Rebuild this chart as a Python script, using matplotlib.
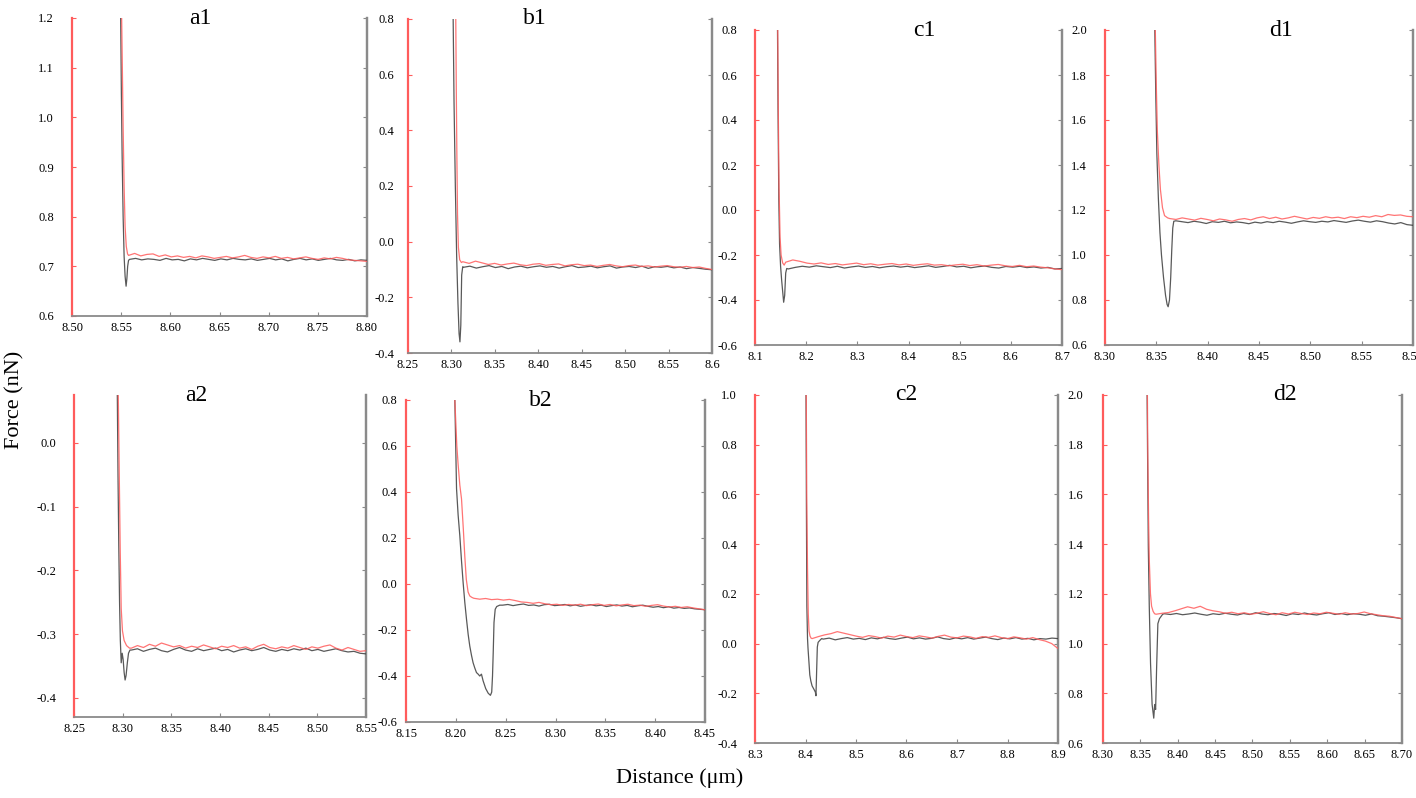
import numpy as np
import matplotlib
matplotlib.use('Agg')
import matplotlib.pyplot as plt

plt.rcParams['font.family'] = ['Liberation Serif', 'DejaVu Serif']

RED = '#ff5c5c'
GREY = '#8a8a8a'
DARK = '#3c3c3c'

# ---- a1 ----
a1_red_x = [8.5505, 8.5512, 8.5520, 8.5530, 8.5540, 8.5552, 8.5565]
a1_red_y = [1.20, 1.10, 0.98, 0.86, 0.78, 0.74, 0.725]
a1_red_flat_span = (8.5575, 8.80)
a1_red_flat = [0.722, 0.726, 0.721, 0.724, 0.725, 0.720, 0.723, 0.719, 0.721, 0.718,
               0.720, 0.717, 0.721, 0.719, 0.716, 0.718, 0.720, 0.717, 0.719, 0.722,
               0.718, 0.716, 0.719, 0.717, 0.720, 0.716, 0.718, 0.715, 0.717, 0.719,
               0.716, 0.714, 0.717, 0.715, 0.718, 0.716, 0.713, 0.712, 0.711, 0.710]
a1_blk_x = [8.5495, 8.5502, 8.5510, 8.5520, 8.5530, 8.5540, 8.5550, 8.5558, 8.5566, 8.5575]
a1_blk_y = [1.20, 1.05, 0.92, 0.80, 0.72, 0.68, 0.66, 0.675, 0.70, 0.712]
a1_blk_flat_span = (8.5585, 8.80)
a1_blk_flat = [0.714, 0.716, 0.713, 0.715, 0.714, 0.712, 0.716, 0.713, 0.714, 0.711,
               0.715, 0.713, 0.716, 0.714, 0.712, 0.715, 0.713, 0.716, 0.714, 0.713,
               0.715, 0.712, 0.714, 0.716, 0.713, 0.715, 0.711, 0.714, 0.716, 0.713,
               0.715, 0.712, 0.714, 0.716, 0.713, 0.712, 0.714, 0.711, 0.713, 0.712]

# ---- b1 ----
b1_red_x = [8.3050, 8.3056, 8.3063, 8.3070, 8.3080, 8.3095, 8.3115]
b1_red_y = [0.80, 0.55, 0.30, 0.10, -0.02, -0.065, -0.075]
b1_red_flat_span = (8.313, 8.60)
b1_red_flat = [-0.072, -0.078, -0.070, -0.076, -0.082, -0.078, -0.084, -0.080, -0.077, -0.083,
               -0.086, -0.081, -0.079, -0.085, -0.082, -0.080, -0.087, -0.083, -0.081, -0.086,
               -0.084, -0.089, -0.085, -0.082, -0.087, -0.090, -0.086, -0.084, -0.089, -0.087,
               -0.091, -0.088, -0.086, -0.090, -0.092, -0.089, -0.093, -0.091, -0.096, -0.100]
b1_blk_x = [8.3020, 8.3030, 8.3045, 8.3060, 8.3075, 8.3088, 8.3098, 8.3108, 8.3118, 8.3130]
b1_blk_y = [0.80, 0.50, 0.20, -0.05, -0.22, -0.33, -0.36, -0.30, -0.12, -0.09]
b1_blk_flat_span = (8.314, 8.60)
b1_blk_flat = [-0.092, -0.088, -0.095, -0.090, -0.086, -0.093, -0.089, -0.097, -0.091, -0.088,
               -0.094, -0.090, -0.087, -0.092, -0.089, -0.095, -0.090, -0.086, -0.093, -0.091,
               -0.088, -0.094, -0.090, -0.087, -0.095, -0.091, -0.089, -0.093, -0.088, -0.096,
               -0.090, -0.092, -0.089, -0.094, -0.091, -0.097, -0.093, -0.096, -0.099, -0.101]

# ---- c1 ----
c1_red_x = [8.1445, 8.1455, 8.1470, 8.1490, 8.1510, 8.1540, 8.1570]
c1_red_y = [0.80, 0.45, 0.10, -0.12, -0.20, -0.235, -0.245]
c1_red_flat_span = (8.160, 8.70)
c1_red_flat = [-0.232, -0.222, -0.228, -0.236, -0.240, -0.235, -0.242, -0.238, -0.244, -0.240,
               -0.236, -0.243, -0.239, -0.245, -0.241, -0.238, -0.244, -0.240, -0.246, -0.242,
               -0.239, -0.245, -0.243, -0.248, -0.244, -0.241, -0.247, -0.243, -0.249, -0.245,
               -0.242, -0.248, -0.251, -0.246, -0.252, -0.249, -0.254, -0.257, -0.262, -0.265]
c1_blk_x = [8.1440, 8.1450, 8.1465, 8.1480, 8.1500, 8.1520, 8.1540, 8.1560, 8.1580, 8.1600, 8.1620]
c1_blk_y = [0.80, 0.45, 0.05, -0.15, -0.25, -0.31, -0.36, -0.41, -0.38, -0.28, -0.26]
c1_blk_flat_span = (8.165, 8.70)
c1_blk_flat = [-0.262, -0.255, -0.250, -0.254, -0.248, -0.252, -0.256, -0.250, -0.258, -0.253,
               -0.249, -0.255, -0.251, -0.257, -0.252, -0.249, -0.254, -0.250, -0.256, -0.252,
               -0.248, -0.255, -0.251, -0.246, -0.253, -0.250, -0.257, -0.252, -0.249, -0.255,
               -0.258, -0.251, -0.254, -0.250, -0.256, -0.253, -0.258, -0.255, -0.262, -0.260]

# ---- d1 ----
d1_red_x = [8.3490, 8.3500, 8.3510, 8.3525, 8.3540, 8.3560, 8.3580, 8.3610]
d1_red_y = [2.00, 1.75, 1.55, 1.40, 1.29, 1.21, 1.175, 1.165]
d1_red_flat_span = (8.363, 8.60)
d1_red_flat = [1.162, 1.158, 1.165, 1.160, 1.155, 1.163, 1.158, 1.152, 1.160, 1.156,
               1.150, 1.158, 1.162, 1.156, 1.165, 1.170, 1.162, 1.168, 1.160, 1.165,
               1.172, 1.166, 1.160, 1.167, 1.163, 1.170, 1.165, 1.168, 1.162, 1.170,
               1.166, 1.172, 1.168, 1.175, 1.170, 1.180, 1.176, 1.178, 1.172, 1.170]
d1_blk_x = [8.3485, 8.3495, 8.3505, 8.3520, 8.3535, 8.3550, 8.3570, 8.3590, 8.3605, 8.3615,
            8.3628, 8.3640, 8.3650, 8.3660, 8.3670]
d1_blk_y = [2.00, 1.70, 1.45, 1.25, 1.10, 1.00, 0.90, 0.82, 0.78, 0.77,
            0.80, 0.90, 1.02, 1.12, 1.15]
d1_blk_flat_span = (8.369, 8.60)
d1_blk_flat = [1.152, 1.148, 1.144, 1.150, 1.146, 1.140, 1.148, 1.145, 1.150, 1.143,
               1.147, 1.144, 1.139, 1.146, 1.142, 1.148, 1.144, 1.150, 1.146, 1.141,
               1.147, 1.152, 1.148, 1.145, 1.150, 1.147, 1.153, 1.149, 1.145, 1.151,
               1.155, 1.150, 1.146, 1.152, 1.148, 1.142, 1.138, 1.144, 1.135, 1.132]

# ---- a2 ----
a2_red_x = [8.2955, 8.2965, 8.2975, 8.2985, 8.2998, 8.3015, 8.3040, 8.3070]
a2_red_y = [0.075, -0.05, -0.17, -0.26, -0.295, -0.31, -0.318, -0.322]
a2_red_flat_span = (8.309, 8.55)
a2_red_flat = [-0.322, -0.318, -0.321, -0.316, -0.319, -0.314, -0.317, -0.320, -0.318, -0.322,
               -0.319, -0.321, -0.317, -0.320, -0.323, -0.319, -0.321, -0.318, -0.322, -0.320,
               -0.324, -0.319, -0.316, -0.321, -0.323, -0.320, -0.322, -0.318, -0.321, -0.324,
               -0.320, -0.322, -0.319, -0.317, -0.322, -0.325, -0.321, -0.324, -0.327, -0.326]
a2_blk_x = [8.2945, 8.2952, 8.2960, 8.2968, 8.2976, 8.2985, 8.2995, 8.3005, 8.3015, 8.3025,
            8.3035, 8.3048, 8.3060, 8.3075]
a2_blk_y = [0.075, -0.05, -0.16, -0.25, -0.31, -0.345, -0.33, -0.34, -0.36, -0.372,
            -0.365, -0.345, -0.33, -0.325]
a2_blk_flat_span = (8.309, 8.55)
a2_blk_flat = [-0.325, -0.323, -0.327, -0.324, -0.322, -0.326, -0.328, -0.324, -0.321, -0.325,
               -0.327, -0.323, -0.326, -0.324, -0.322, -0.326, -0.324, -0.328, -0.325, -0.323,
               -0.326, -0.324, -0.321, -0.325, -0.327, -0.324, -0.326, -0.323, -0.325, -0.322,
               -0.326, -0.324, -0.327, -0.325, -0.323, -0.326, -0.328, -0.327, -0.330, -0.331]

# ---- b2 ----
b2_red_x = [8.1990, 8.2000, 8.2010, 8.2023, 8.2040, 8.2057, 8.2075, 8.2090, 8.2105, 8.2123,
            8.2140, 8.2160]
b2_red_y = [0.80, 0.70, 0.60, 0.52, 0.43, 0.37, 0.24, 0.12, 0.02, -0.035, -0.052, -0.058]
b2_red_flat_span = (8.218, 8.45)
b2_red_flat = [-0.062, -0.066, -0.063, -0.068, -0.066, -0.070, -0.067, -0.072, -0.078, -0.080,
               -0.084, -0.080, -0.086, -0.090, -0.088, -0.093, -0.089, -0.092, -0.088, -0.094,
               -0.090, -0.087, -0.093, -0.089, -0.095, -0.091, -0.088, -0.094, -0.092, -0.097,
               -0.093, -0.090, -0.096, -0.100, -0.097, -0.102, -0.099, -0.104, -0.108, -0.112]
b2_blk_x = [8.1990, 8.2007, 8.2023, 8.2040, 8.2057, 8.2073, 8.2090, 8.2107, 8.2124, 8.2140,
            8.2157, 8.2173, 8.2190, 8.2207, 8.2224, 8.2240, 8.2257, 8.2273, 8.2300, 8.2325,
            8.2347, 8.2360, 8.2368, 8.2375, 8.2383, 8.2395, 8.2410, 8.2440]
b2_blk_y = [0.80, 0.415, 0.30, 0.21, 0.10, 0.007, -0.08, -0.153, -0.22, -0.27,
            -0.31, -0.342, -0.365, -0.385, -0.392, -0.40, -0.392, -0.42, -0.455, -0.475,
            -0.484, -0.47, -0.40, -0.30, -0.167, -0.11, -0.098, -0.092]
b2_blk_flat_span = (8.247, 8.45)
b2_blk_flat = [-0.092, -0.089, -0.094, -0.090, -0.087, -0.093, -0.091, -0.096, -0.090, -0.088,
               -0.094, -0.092, -0.089, -0.095, -0.091, -0.097, -0.093, -0.090, -0.095, -0.092,
               -0.098, -0.094, -0.091, -0.096, -0.093, -0.099, -0.095, -0.092, -0.097, -0.101,
               -0.098, -0.103, -0.099, -0.105, -0.102, -0.106, -0.104, -0.108, -0.110, -0.112]

# ---- c2 ----
c2_red_x = [8.4015, 8.4025, 8.4040, 8.4055, 8.4070, 8.4090, 8.4110]
c2_red_y = [1.00, 0.60, 0.30, 0.12, 0.05, 0.03, 0.022]
c2_red_flat_span = (8.413, 8.90)
c2_red_flat = [0.020, 0.028, 0.035, 0.040, 0.048, 0.042, 0.036, 0.030, 0.025, 0.032,
               0.028, 0.022, 0.030, 0.026, 0.034, 0.028, 0.024, 0.031, 0.027, 0.022,
               0.029, 0.034, 0.026, 0.023, 0.030, 0.027, 0.021, 0.028, 0.025, 0.031,
               0.024, 0.020, 0.027, 0.023, 0.018, 0.024, 0.016, 0.010, 0.000, -0.020]
c2_blk_x = [8.4010, 8.4018, 8.4027, 8.4040, 8.4050, 8.4070, 8.4085, 8.4105, 8.4130, 8.4170,
            8.4195, 8.4207, 8.4222, 8.4234, 8.4250, 8.4280, 8.4320]
c2_blk_y = [1.00, 0.55, 0.15, 0.02, -0.02, -0.08, -0.126, -0.15, -0.17, -0.185,
            -0.195, -0.21, -0.10, -0.014, 0.005, 0.012, 0.020]
c2_blk_flat_span = (8.435, 8.90)
c2_blk_flat = [0.018, 0.022, 0.015, 0.020, 0.024, 0.018, 0.021, 0.016, 0.023, 0.019,
               0.025, 0.020, 0.017, 0.022, 0.026, 0.019, 0.023, 0.018, 0.021, 0.027,
               0.020, 0.017, 0.023, 0.019, 0.024, 0.018, 0.022, 0.026, 0.020, 0.016,
               0.022, 0.019, 0.024, 0.018, 0.021, 0.015, 0.020, 0.018, 0.022, 0.020]

# ---- d2 ----
d2_red_x = [8.3594, 8.3600, 8.3610, 8.3620, 8.3635, 8.3650, 8.3670, 8.3690]
d2_red_y = [2.00, 1.75, 1.50, 1.33, 1.20, 1.15, 1.13, 1.12]
d2_red_flat_span = (8.371, 8.70)
d2_red_flat = [1.118, 1.122, 1.125, 1.132, 1.140, 1.148, 1.142, 1.150, 1.138, 1.132,
               1.128, 1.122, 1.126, 1.120, 1.124, 1.118, 1.122, 1.128, 1.121, 1.116,
               1.124, 1.119, 1.126, 1.121, 1.117, 1.123, 1.120, 1.126, 1.122, 1.118,
               1.124, 1.119, 1.121, 1.127, 1.120, 1.116, 1.112, 1.110, 1.105, 1.100]
d2_blk_x = [8.3590, 8.3598, 8.3606, 8.3619, 8.3636, 8.3657, 8.3679, 8.3691, 8.3704, 8.3717,
            8.3734, 8.3755, 8.3798]
d2_blk_y = [2.00, 1.70, 1.39, 1.15, 0.92, 0.755, 0.70, 0.755, 0.735, 0.90,
            1.08, 1.10, 1.118]
d2_blk_flat_span = (8.382, 8.70)
d2_blk_flat = [1.120, 1.117, 1.121, 1.116, 1.119, 1.123, 1.118, 1.114, 1.120, 1.117,
               1.122, 1.118, 1.115, 1.121, 1.117, 1.124, 1.119, 1.116, 1.121, 1.118,
               1.113, 1.120, 1.117, 1.123, 1.118, 1.115, 1.120, 1.124, 1.117, 1.121,
               1.116, 1.120, 1.118, 1.114, 1.119, 1.112, 1.110, 1.107, 1.104, 1.100]

# tick positions and the labels printed on each panel
a1_xt = [8.50, 8.55, 8.60, 8.65, 8.70, 8.75, 8.80]
a1_xl = ['8.50', '8.55', '8.60', '8.65', '8.70', '8.75', '8.80']
b1_xt = [8.25, 8.30, 8.35, 8.40, 8.45, 8.50, 8.55, 8.60]
b1_xl = ['8.25', '8.30', '8.35', '8.40', '8.45', '8.50', '8.55', '8.6']
c1_xt = [8.1, 8.2, 8.3, 8.4, 8.5, 8.6, 8.7]
c1_xl = ['8.1', '8.2', '8.3', '8.4', '8.5', '8.6', '8.7']
d1_xt = [8.30, 8.35, 8.40, 8.45, 8.50, 8.55, 8.60]
d1_xl = ['8.30', '8.35', '8.40', '8.45', '8.50', '8.55', '8.55']
a2_xt = [8.25, 8.30, 8.35, 8.40, 8.45, 8.50, 8.55]
a2_xl = ['8.25', '8.30', '8.35', '8.40', '8.45', '8.50', '8.55']
b2_xt = [8.15, 8.20, 8.25, 8.30, 8.35, 8.40, 8.45]
b2_xl = ['8.15', '8.20', '8.25', '8.30', '8.35', '8.40', '8.45']
c2_xt = [8.3, 8.4, 8.5, 8.6, 8.7, 8.8, 8.9]
c2_xl = ['8.3', '8.4', '8.5', '8.6', '8.7', '8.8', '8.9']
d2_xt = [8.30, 8.35, 8.40, 8.45, 8.50, 8.55, 8.60, 8.65, 8.70]
d2_xl = ['8.30', '8.35', '8.40', '8.45', '8.50', '8.55', '8.60', '8.65', '8.70']
a1_yl = ['0.6', '0.7', '0.8', '0.9', '1.0', '1.1', '1.2']
b1_yl = ['-0.4', '-0.2', '0.0', '0.2', '0.4', '0.6', '0.8']
c1_yl = ['-0.6', '-0.4', '-0.2', '0.0', '0.2', '0.4', '0.6', '0.8']
d1_yl = ['0.6', '0.8', '1.0', '1.2', '1.4', '1.6', '1.8', '2.0']
a2_yl = ['-0.4', '-0.3', '-0.2', '-0.1', '0.0']
b2_yl = ['-0.6', '-0.4', '-0.2', '0.0', '0.2', '0.4', '0.6', '0.8']
c2_yl = ['-0.4', '-0.2', '0.0', '0.2', '0.4', '0.6', '0.8', '1.0']
d2_yl = ['0.6', '0.8', '1.0', '1.2', '1.4', '1.6', '1.8', '2.0']

W, H = 1416, 798
fig = plt.figure(figsize=(W / 100, H / 100), dpi=100)


def make_axes(left, right, top, bottom):
    return fig.add_axes([left / W, 1 - bottom / H, (right - left) / W, (bottom - top) / H])


def panel(box, ylim, xt, xl, yl, title, tx, ypad,
          rx, ry, rspan, rflat, bx, by, bspan, bflat):
    ax = make_axes(*box)
    yv = [float(t) for t in yl]
    ax.set_xlim(xt[0], xt[-1])
    ax.set_ylim(*ylim)

    # retract (grey/black) then approach (red)
    bxx = list(bx) + list(np.linspace(bspan[0], bspan[1], len(bflat)))
    byy = list(by) + list(bflat)
    rxx = list(rx) + list(np.linspace(rspan[0], rspan[1], len(rflat)))
    ryy = list(ry) + list(rflat)
    ax.plot(bxx, byy, color=DARK, lw=0.9, alpha=0.85, zorder=3)
    ax.plot(rxx, ryy, color=RED, lw=0.9, alpha=0.85, zorder=4)

    ax.set_xticks(xt)
    ax.set_xticklabels(xl)
    ax.set_yticks(yv)
    ax.set_yticklabels(yl)
    ax.spines['top'].set_visible(False)
    ax.spines['left'].set_color(RED)
    ax.spines['left'].set_linewidth(1.6)
    ax.spines['right'].set_color(GREY)
    ax.spines['right'].set_linewidth(1.6)
    ax.spines['bottom'].set_color(GREY)
    ax.spines['bottom'].set_linewidth(1.3)
    ax.tick_params(axis='x', direction='in', length=3, color=GREY, labelsize=9, pad=4)
    ax.tick_params(axis='y', direction='in', length=3, color=RED, labelsize=9, pad=ypad,
                   right=False)

    sec = ax.secondary_yaxis('right')
    sec.set_yticks(yv)
    sec.tick_params(direction='in', length=3, color=GREY, labelright=False)
    sec.spines['right'].set_color(GREY)
    sec.spines['right'].set_linewidth(1.6)

    ax.text(tx, 1.0, title, transform=ax.transAxes, ha='center', va='center', fontsize=17)
    return ax


panel((72, 367, 18, 316), (0.6, 1.2), a1_xt, a1_xl, a1_yl, 'a1', 0.434, 13,
      a1_red_x, a1_red_y, a1_red_flat_span, a1_red_flat,
      a1_blk_x, a1_blk_y, a1_blk_flat_span, a1_blk_flat)
panel((408, 712, 19, 353), (-0.4, 0.8), b1_xt, b1_xl, b1_yl, 'b1', 0.418, 10,
      b1_red_x, b1_red_y, b1_red_flat_span, b1_red_flat,
      b1_blk_x, b1_blk_y, b1_blk_flat_span, b1_blk_flat)
panel((755, 1062, 30, 345), (-0.6, 0.8), c1_xt, c1_xl, c1_yl, 'c1', 0.55, 13,
      c1_red_x, c1_red_y, c1_red_flat_span, c1_red_flat,
      c1_blk_x, c1_blk_y, c1_blk_flat_span, c1_blk_flat)
panel((1105, 1413, 30, 345), (0.6, 2.0), d1_xt, d1_xl, d1_yl, 'd1', 0.57, 13,
      d1_red_x, d1_red_y, d1_red_flat_span, d1_red_flat,
      d1_blk_x, d1_blk_y, d1_blk_flat_span, d1_blk_flat)
panel((74, 366, 395, 717), (-0.43, 0.075), a2_xt, a2_xl, a2_yl, 'a2', 0.42, 13,
      a2_red_x, a2_red_y, a2_red_flat_span, a2_red_flat,
      a2_blk_x, a2_blk_y, a2_blk_flat_span, a2_blk_flat)
panel((406, 705, 400, 722), (-0.6, 0.8), b2_xt, b2_xl, b2_yl, 'b2', 0.45, 6,
      b2_red_x, b2_red_y, b2_red_flat_span, b2_red_flat,
      b2_blk_x, b2_blk_y, b2_blk_flat_span, b2_blk_flat)
panel((755, 1058, 395, 743), (-0.4, 1.0), c2_xt, c2_xl, c2_yl, 'c2', 0.50, 13,
      c2_red_x, c2_red_y, c2_red_flat_span, c2_red_flat,
      c2_blk_x, c2_blk_y, c2_blk_flat_span, c2_blk_flat)
panel((1103, 1402, 395, 743), (0.6, 2.0), d2_xt, d2_xl, d2_yl, 'd2', 0.61, 14,
      d2_red_x, d2_red_y, d2_red_flat_span, d2_red_flat,
      d2_blk_x, d2_blk_y, d2_blk_flat_span, d2_blk_flat)

fig.text(15 / W, 1 - 400 / H, 'Force (nN)', rotation=90, ha='center', va='center', fontsize=16)
fig.text(680 / W, 1 - 778 / H, 'Distance (μm)', ha='center', va='center', fontsize=16)

fig.savefig('out.png', dpi=100)
